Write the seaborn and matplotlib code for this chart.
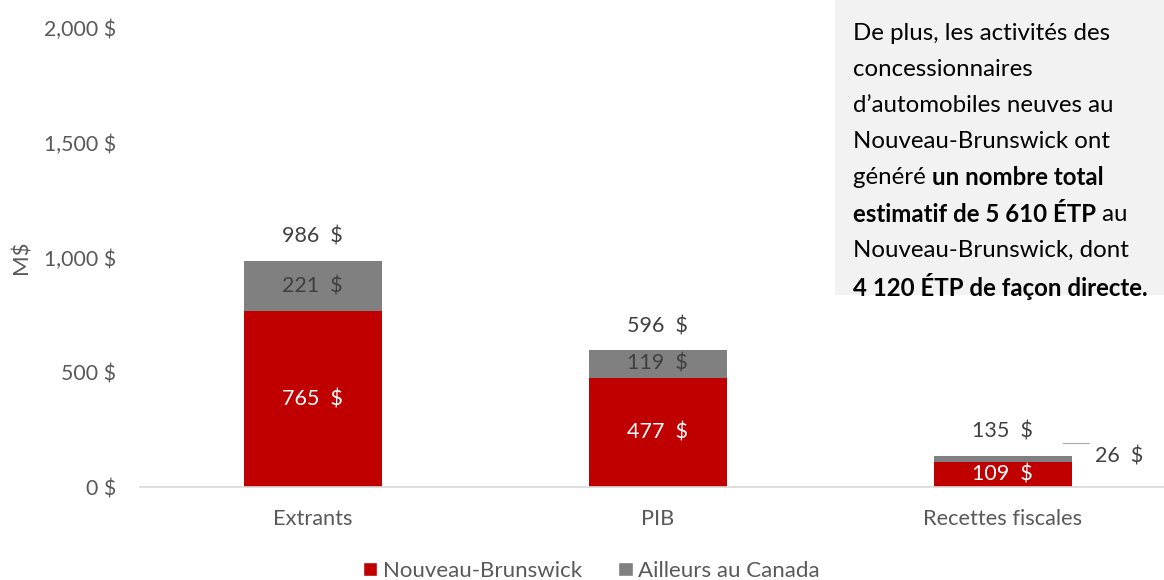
import matplotlib
matplotlib.use("Agg")
import matplotlib.pyplot as plt
import seaborn as sns
import pandas as pd
from matplotlib.patches import Patch

# --- Data ---
categories = ['Extrants', 'PIB', 'Recettes fiscales']
nouveau_brunswick = [765, 477, 109]
ailleurs_canada = [221, 119, 26]
totals = [986, 596, 135]
y_ticks = [0, 500, 1000, 1500, 2000]
y_tick_labels = ['0 $', '500 $', '1,000 $', '1,500 $', '2,000 $']

RED = '#C00000'
GREY = '#808080'
TXT = '#404040'
TICK = '#595959'

df = pd.DataFrame({
    'categorie': categories,
    'nb': nouveau_brunswick,
    'ailleurs': ailleurs_canada,
    'total': totals,
})
df['stack'] = df['nb'] + df['ailleurs']

sns.set_theme(style='white')
plt.rcParams['font.family'] = ['Lato', 'DejaVu Sans']

fig = plt.figure(figsize=(11.64, 5.8), dpi=100)
ax = fig.add_axes([0.1203, 0.1603, 0.8892, 0.7914])

# stacked bars: grey total underneath, red part on top of it
sns.barplot(data=df, x='categorie', y='stack', color=GREY, width=0.4,
            saturation=1, linewidth=0, ax=ax)
sns.barplot(data=df, x='categorie', y='nb', color=RED, width=0.4,
            saturation=1, linewidth=0, ax=ax)

ax.set_xlim(-0.5, 2.5)
ax.set_ylim(0, 2000)
ax.set_yticks(y_ticks)
ax.set_yticklabels(y_tick_labels, fontsize=15.3, color=TICK)
ax.tick_params(axis='x', labelsize=15.7, colors=TICK, pad=16, length=0)
ax.tick_params(axis='y', length=0, pad=17)
ax.set_xlabel('')
ax.set_ylabel('M$', fontsize=16, color=TICK, labelpad=9)

sns.despine(ax=ax, left=True, top=True, right=True)
ax.spines['bottom'].set_color('#D9D9D9')
ax.spines['bottom'].set_linewidth(1.2)

# data labels
for i, row in df.iterrows():
    ax.text(i, row['nb'] / 2, f"{row['nb']}  $", ha='center', va='center',
            color='white', fontsize=15.5)
    ax.text(i, row['total'] + 105, f"{row['total']}  $", ha='center',
            va='center', color=TXT, fontsize=15.5)
    if row['ailleurs'] > 60:
        ax.text(i, row['nb'] + row['ailleurs'] / 2, f"{row['ailleurs']}  $",
                ha='center', va='center', color=TXT, fontsize=15.5)
    else:
        # small segment: label outside with a short leader line
        ax.plot([i + 0.175, i + 0.25], [row['total'] + 57] * 2,
                color='#A6A6A6', lw=0.8)
        ax.text(i + 0.268, row['total'] - 4, f"{row['ailleurs']}  $",
                ha='left', va='center', color=TXT, fontsize=15.5)

# legend
handles = [Patch(facecolor=RED, label='Nouveau-Brunswick'),
           Patch(facecolor=GREY, label='Ailleurs au Canada')]
fig.legend(handles=handles, loc='lower center', bbox_to_anchor=(0.508, -0.036),
           ncol=2, frameon=False, fontsize=16, handlelength=0.65,
           handleheight=0.65, handletextpad=0.25, columnspacing=1.65,
           labelcolor=TICK)

# text box
fig.patches.append(plt.Rectangle((835 / 1164, 1 - 295 / 580), 329 / 1164,
                                 295 / 580, transform=fig.transFigure,
                                 facecolor='#F2F2F2', edgecolor='none',
                                 zorder=0))
box_lines = [
    [('De plus, les activités des', 'normal')],
    [('concessionnaires', 'normal')],
    [('d\u2019automobiles neuves au', 'normal')],
    [('Nouveau-Brunswick ont', 'normal')],
    [('généré ', 'normal'), ('un nombre total', 'bold')],
    [('estimatif de 5 610 ÉTP', 'bold'), (' au', 'normal')],
    [('Nouveau-Brunswick, dont', 'normal')],
    [('4 120 ÉTP de façon directe.', 'bold')],
]
y0 = 1 - 33 / 580
dy = 36.2 / 580
renderer = fig.canvas.get_renderer()
for k, line in enumerate(box_lines):
    x = 853 / 1164
    for txt, w in line:
        t = fig.text(x, y0 - k * dy, txt, fontsize=17.3, fontweight=w,
                     color='black', ha='left', va='center')
        bb = t.get_window_extent(renderer=renderer)
        x += bb.width / fig.bbox.width

fig.savefig('out.png', dpi=100)
